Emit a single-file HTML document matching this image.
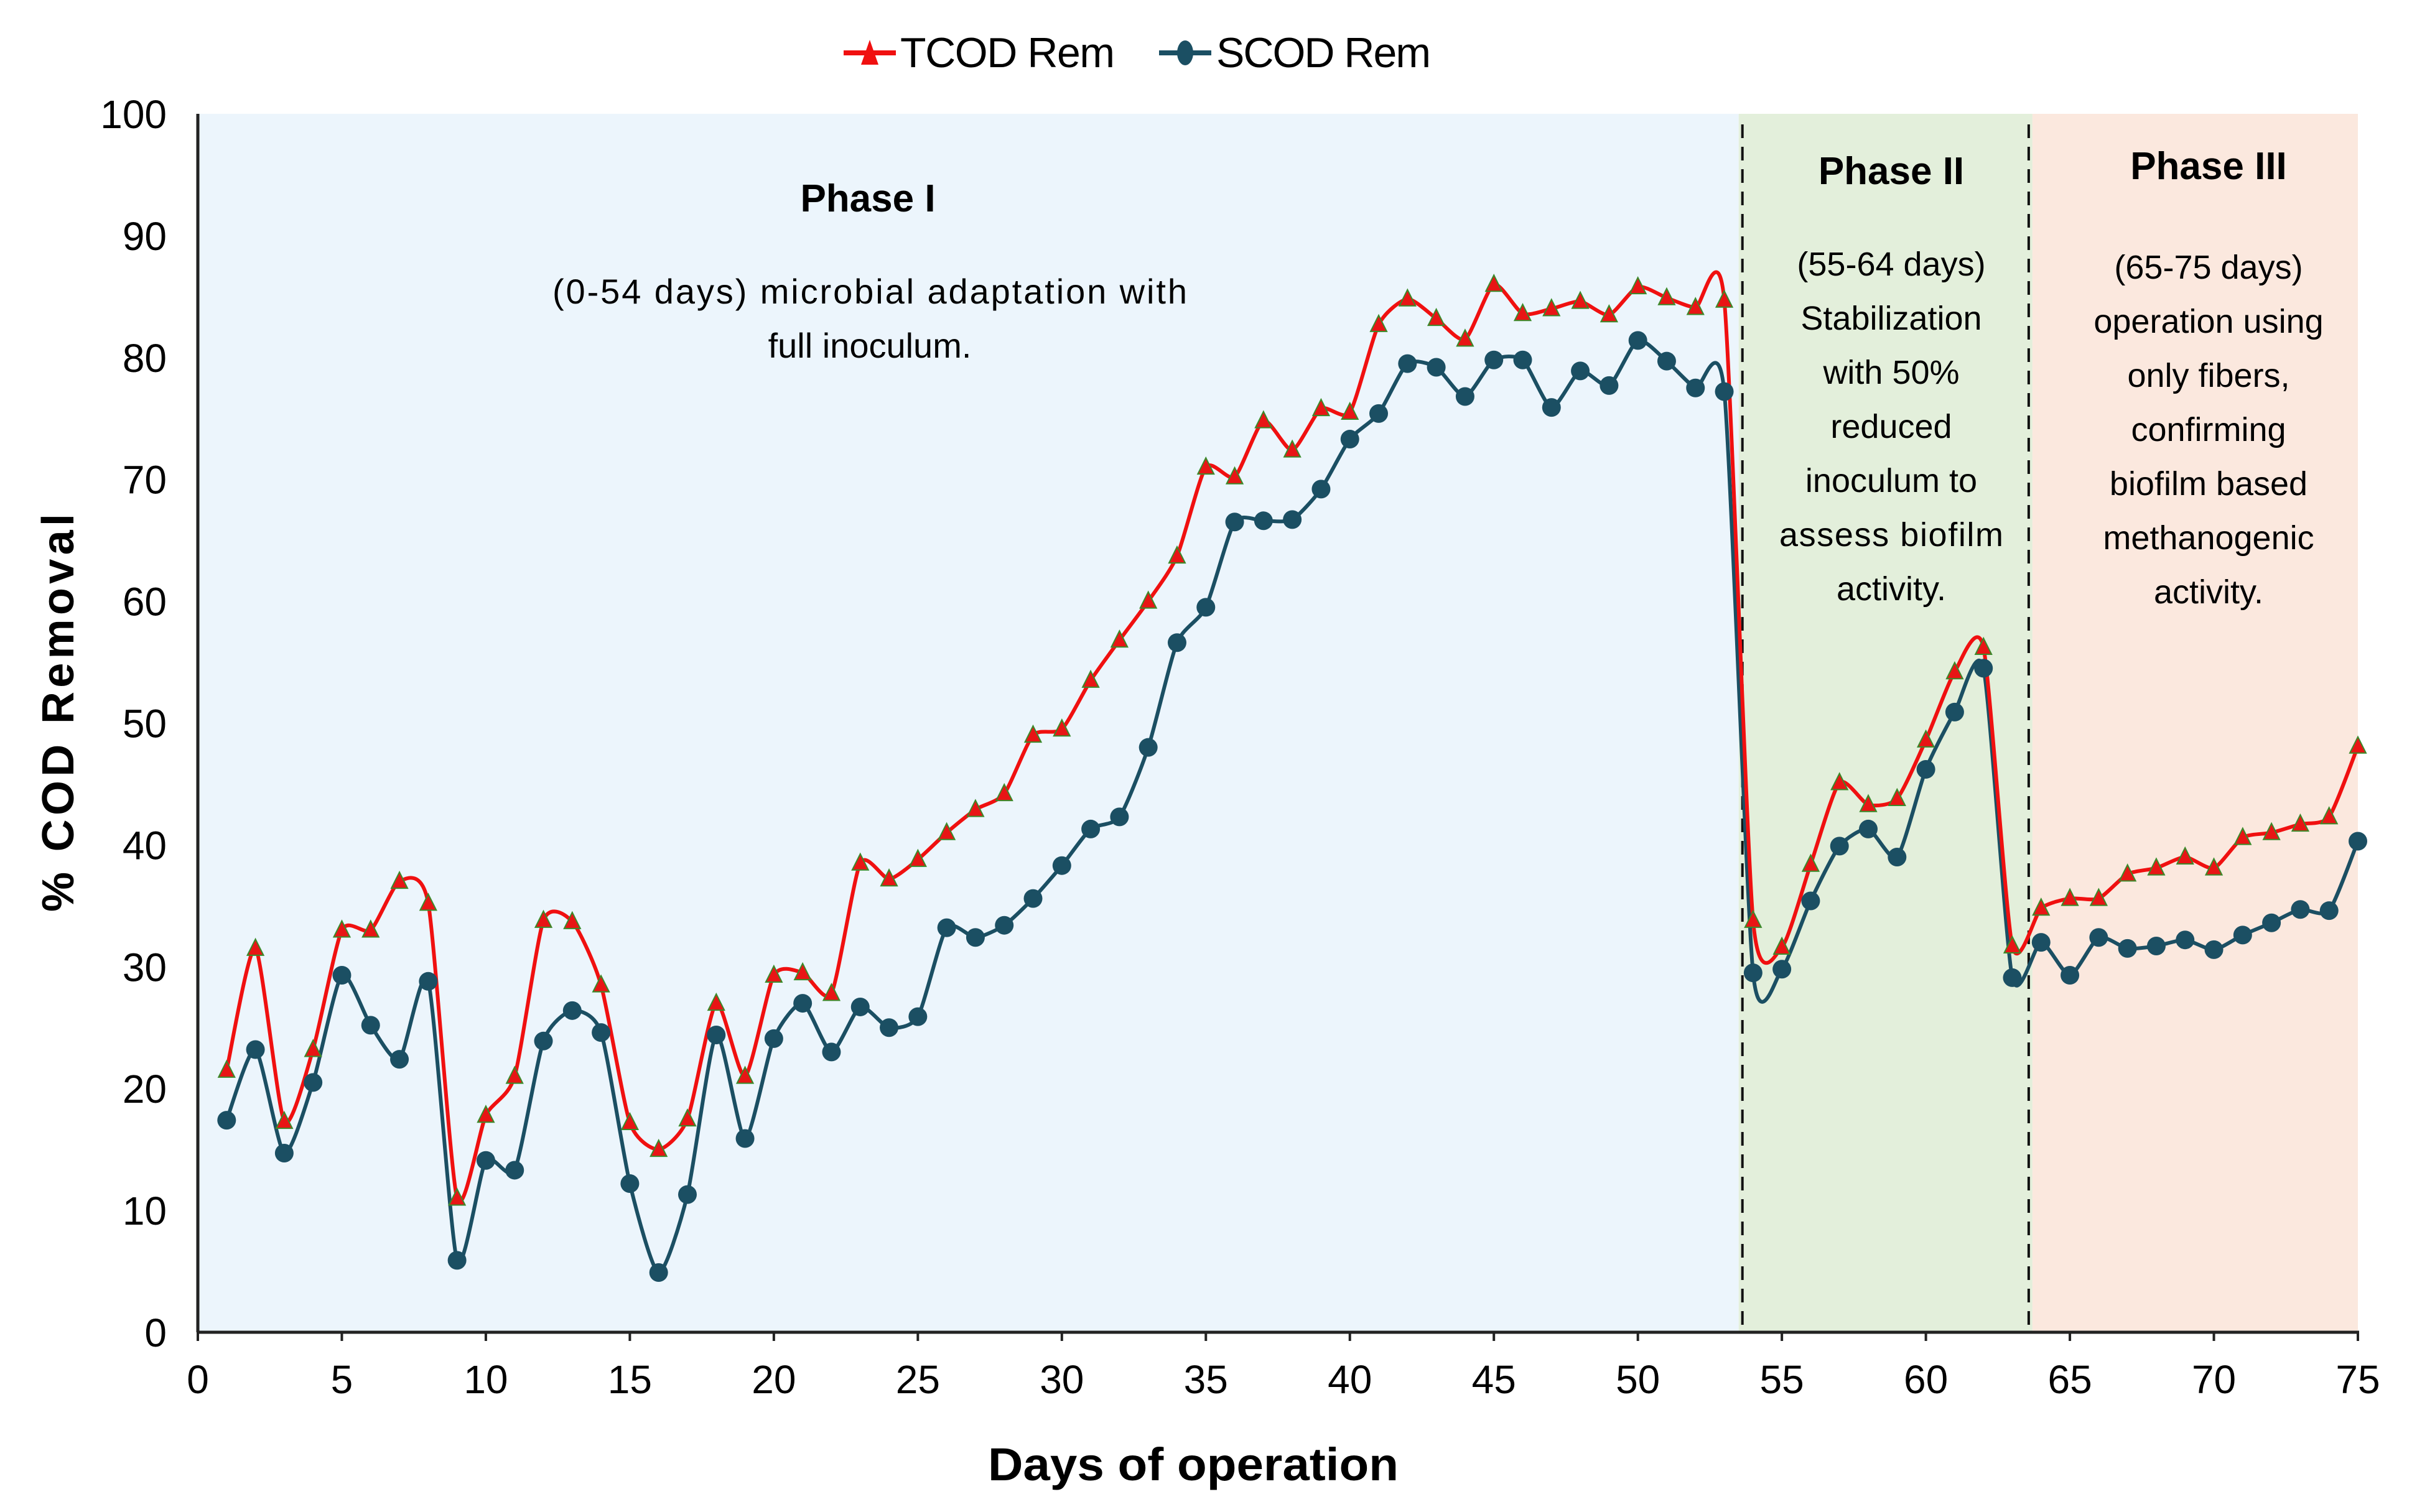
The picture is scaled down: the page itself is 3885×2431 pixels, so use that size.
<!DOCTYPE html>
<html><head><meta charset="utf-8"><style>
html,body{margin:0;padding:0;background:#fff;}
svg{display:block;}
text{font-family:"Liberation Sans Narrow","Liberation Sans",sans-serif;}
</style></head><body>
<svg id="chart" width="3885" height="2431" viewBox="0 0 3885 2431" xmlns="http://www.w3.org/2000/svg">
<g id="bg"></g><g id="axes"></g><g id="series"></g><g id="labels"></g>
</svg>
<script>
const days = Array.from({length:75},(_,i)=>i+1);
const tcodRem = [21.5,31.5,17.3,23.2,33,33,37,35.2,11,17.8,21,33.8,33.7,28.5,17.2,15,17.5,27,21,29.3,29.5,27.8,38.5,37.2,38.8,41,42.9,44.2,49,49.5,53.5,56.8,60,63.7,71,70.2,74.8,72.4,75.8,75.5,82.7,84.8,83.2,81.5,86,83.6,84,84.6,83.5,85.8,84.9,84.1,84.7,33.8,31.6,38.4,45.1,43.3,43.8,48.6,54.2,56.2,31.7,34.8,35.6,35.6,37.6,38.1,39,38.1,40.6,41,41.7,42.3,48.1];
const scodRem = [17.4,23.2,14.7,20.5,29.3,25.2,22.4,28.8,5.9,14.1,13.3,23.9,26.4,24.6,12.2,4.9,11.3,24.4,15.9,24.1,27,23,26.7,25,25.9,33.2,32.4,33.4,35.6,38.3,41.3,42.3,48,56.6,59.5,66.5,66.6,66.7,69.2,73.3,75.4,79.5,79.2,76.8,79.8,79.8,75.9,78.9,77.7,81.4,79.7,77.5,77.2,29.5,29.8,35.4,39.9,41.3,39,46.2,50.9,54.5,29.1,32,29.3,32.4,31.5,31.7,32.2,31.4,32.6,33.6,34.7,34.6,40.3];
const xTicks = [0,5,10,15,20,25,30,35,40,45,50,55,60,65,70,75];
const yTicks = [0,10,20,30,40,50,60,70,80,90,100];
const phaseBounds = [0,53.5,63.7,75];

const NS="http://www.w3.org/2000/svg";
const X0=318,X1=3790,Y0=2142,Y1=183;
const xs=d=>X0+(X1-X0)*d/75;
const ys=v=>Y0-(Y0-Y1)*v/100;
function mk(tag,attrs,parent,txt){const e=document.createElementNS(NS,tag);for(const k in attrs)e.setAttribute(k,attrs[k]);if(txt!==undefined)e.textContent=txt;parent.appendChild(e);return e;}
const bg=document.getElementById('bg'),ax=document.getElementById('axes'),se=document.getElementById('series'),lb=document.getElementById('labels');

const cols=['#ECF5FC','#E3EFDB','#FBE8DE'];
const pnames=['phase-1-region','phase-2-region','phase-3-region'];
for(let i=0;i<3;i++){
  const r=mk('rect',{x:xs(phaseBounds[i]),y:Y1,width:xs(phaseBounds[i+1])-xs(phaseBounds[i]),height:Y0-Y1,fill:cols[i]},bg);
  
  
}
[1,2].forEach(i=>{
  const l=mk('line',{x1:xs(phaseBounds[i])+6*(i===1?1:-1),x2:xs(phaseBounds[i])+6*(i===1?1:-1),y1:200,y2:Y0,stroke:'#111','stroke-width':4,'stroke-dasharray':'22,14'},bg);
  
  
});

const yAxis=mk('line',{x1:X0,x2:X0,y1:Y1,y2:Y0,stroke:'#222','stroke-width':5},ax);


const xAxis=mk('line',{x1:X0-2,x2:X1+2,y1:Y0,y2:Y0,stroke:'#222','stroke-width':5},ax);


xTicks.forEach(t=>{
  const tk=mk('line',{x1:xs(t),x2:xs(t),y1:Y0,y2:Y0+14,stroke:'#222','stroke-width':4},ax);
  
  
  const tl=mk('text',{x:xs(t),y:Y0+98,'font-size':64,'text-anchor':'middle',fill:'#000'},ax,String(t));
  
  
});
yTicks.forEach(t=>{
  const tl=mk('text',{x:268,y:ys(t)+23,'font-size':64,'text-anchor':'end',fill:'#000'},ax,String(t));
  
  
});

function smooth(vals){
  const p=vals.map((v,i)=>[xs(days[i]),ys(v)]);
  let d='M'+p[0][0]+','+p[0][1];
  const t=0.11;
  for(let i=0;i<p.length-1;i++){
    const a=p[Math.max(i-1,0)],b=p[i],c=p[i+1],e=p[Math.min(i+2,p.length-1)];
    d+=' C'+(b[0]+(c[0]-a[0])*t)+','+(b[1]+(c[1]-a[1])*t)+' '+(c[0]-(e[0]-b[0])*t)+','+(c[1]-(e[1]-b[1])*t)+' '+c[0]+','+c[1];
  }
  return d;
}
const sl=mk('path',{d:smooth(scodRem),fill:'none',stroke:'#1B4F63','stroke-width':6},se);


const tl=mk('path',{d:smooth(tcodRem),fill:'none',stroke:'#F01010','stroke-width':6},se);


scodRem.forEach((v,i)=>{
  const c=mk('circle',{cx:xs(days[i]),cy:ys(v),r:15,fill:'#1B4F63'},se);
  
  
});
tcodRem.forEach((v,i)=>{
  const x=xs(days[i]),y=ys(v);
  const tri=mk('polygon',{points:(x)+','+(y-15)+' '+(x-13)+','+(y+11)+' '+(x+13)+','+(y+11),fill:'#E81515',stroke:'#3a8a2a','stroke-width':2},se);
  
  
});
</script>
<div style="position:absolute;left:0;top:0;width:3885px;height:2431px;pointer-events:none;">
<svg width="3885" height="2431" viewBox="0 0 3885 2431" xmlns="http://www.w3.org/2000/svg">
<g>
<g>
<line x1="1356" y1="85" x2="1440" y2="85" stroke="#F01010" stroke-width="8"/>
<polygon points="1398,64 1384,104 1412,104" fill="#F01010"/>
<text x="1447" y="108" font-size="68" font-family="Liberation Sans Narrow, Liberation Sans, sans-serif" textLength="345">TCOD Rem</text>
</g>
<g>
<line x1="1863" y1="85" x2="1947" y2="85" stroke="#1B4F63" stroke-width="8"/>
<ellipse cx="1905" cy="85" rx="13" ry="20" fill="#1B4F63"/>
<text x="1955" y="108" font-size="68" font-family="Liberation Sans Narrow, Liberation Sans, sans-serif" textLength="345">SCOD Rem</text>
</g>
</g>
<text x="1395" y="340" font-size="62" font-weight="bold" text-anchor="middle" font-family="Liberation Sans, sans-serif">Phase I</text>
<g font-size="56" text-anchor="middle" font-family="Liberation Sans Narrow, Liberation Sans, sans-serif">
<text x="1398" y="488" textLength="1020">(0-54 days) microbial adaptation with</text>
<text x="1398" y="575">full inoculum.</text>
</g>
<text x="3040" y="296" font-size="62" font-weight="bold" text-anchor="middle" font-family="Liberation Sans, sans-serif">Phase II</text>
<g font-size="54" text-anchor="middle" font-family="Liberation Sans Narrow, Liberation Sans, sans-serif">
<text x="3040" y="443">(55-64 days)</text>
<text x="3040" y="530">Stabilization</text>
<text x="3040" y="617">with 50%</text>
<text x="3040" y="704">reduced</text>
<text x="3040" y="791">inoculum to</text>
<text x="3040" y="878" textLength="360">assess biofilm</text>
<text x="3040" y="965">activity.</text>
</g>
<text x="3550" y="288" font-size="62" font-weight="bold" text-anchor="middle" font-family="Liberation Sans, sans-serif">Phase III</text>
<g font-size="54" text-anchor="middle" font-family="Liberation Sans Narrow, Liberation Sans, sans-serif">
<text x="3550" y="448">(65-75 days)</text>
<text x="3550" y="535">operation using</text>
<text x="3550" y="622">only fibers,</text>
<text x="3550" y="709">confirming</text>
<text x="3550" y="796">biofilm based</text>
<text x="3550" y="883">methanogenic</text>
<text x="3550" y="970">activity.</text>
</g>
<text x="1918" y="2380" font-size="74" font-weight="bold" text-anchor="middle" font-family="Liberation Sans Narrow, Liberation Sans, sans-serif" textLength="660" lengthAdjust="spacingAndGlyphs">Days of  operation</text>
<text transform="translate(118,1146) rotate(-90)" font-size="72" font-weight="bold" text-anchor="middle" font-family="Liberation Sans, sans-serif" textLength="640">% COD Removal</text>
</svg>
</div>
</body></html>
